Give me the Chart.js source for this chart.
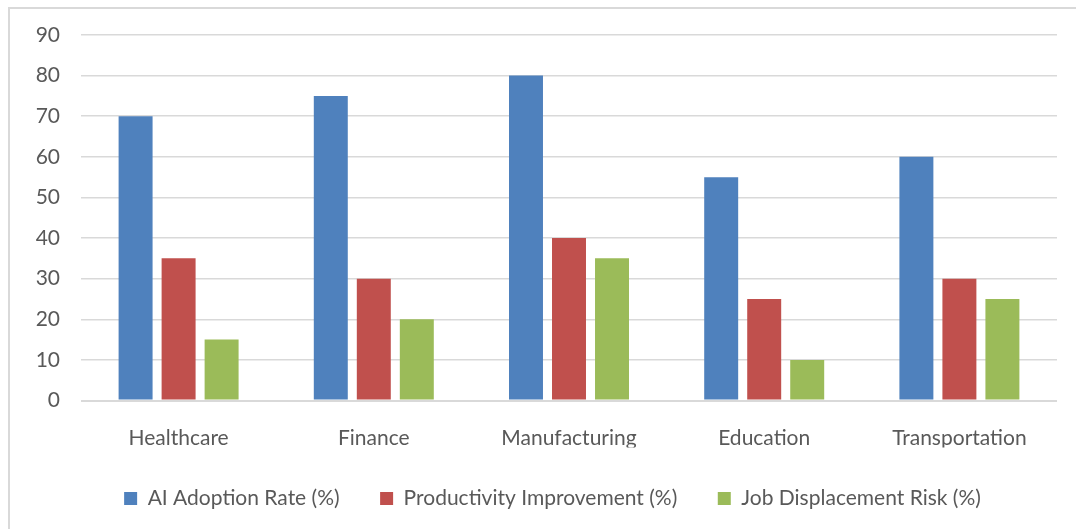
<!DOCTYPE html>
<html>
<head>
<meta charset="utf-8">
<script src="https://cdn.jsdelivr.net/npm/chart.js@4.4.0/dist/chart.umd.min.js"></script>
<style>
  html, body { margin: 0; padding: 0; background: #ffffff; overflow: hidden; }
  #wrap { position: absolute; left: 0; top: 0; width: 1076px; height: 529px; }
</style>
</head>
<body>
<div id="wrap"><canvas id="c" width="1076" height="529"></canvas></div>
<script>
const categories = ["Healthcare", "Finance", "Manufacturing", "Education", "Transportation"];
const aiAdoption = [70, 75, 80, 55, 60];
const productivity = [35, 30, 40, 25, 30];
const jobRisk = [15, 20, 35, 10, 25];
const seriesNames = ["AI Adoption Rate (%)", "Productivity Improvement (%)", "Job Displacement Risk (%)"];
const yTicks = [0, 10, 20, 30, 40, 50, 60, 70, 80, 90];

const FONT = "Lato, 'Open Sans', sans-serif";
const TXT = "#595959";

const borderPlugin = {
  id: 'outerBorder',
  beforeDraw(chart) {
    const ctx = chart.ctx;
    ctx.save();
    ctx.fillStyle = '#ffffff';
    ctx.fillRect(0, 0, chart.width, chart.height);
    ctx.strokeStyle = '#d9d9d9';
    ctx.lineWidth = 2;
    ctx.beginPath();
    ctx.moveTo(9, chart.height + 5);
    ctx.lineTo(9, 8);
    ctx.lineTo(chart.width + 5, 8);
    ctx.stroke();
    ctx.restore();
  },
  afterLayout(chart) {
    if (chart.legend) {
      chart.legend.left += 24;
      chart.legend.right += 24;
    }
  }
};

new Chart(document.getElementById('c'), {
  type: 'bar',
  data: {
    labels: categories,
    datasets: [
      { label: seriesNames[0], data: aiAdoption, backgroundColor: '#4F81BD' },
      { label: seriesNames[1], data: productivity, backgroundColor: '#C0504D' },
      { label: seriesNames[2], data: jobRisk, backgroundColor: '#9BBB59' }
    ]
  },
  options: {
    responsive: false,
    animation: false,
    devicePixelRatio: 1,
    layout: { padding: { left: 0, right: 19, top: 35, bottom: 10 } },
    datasets: { bar: { categoryPercentage: 0.661, barPercentage: 0.79 } },
    scales: {
      x: {
        grid: { display: false, drawTicks: false },
        border: { display: false },
        ticks: { color: TXT, font: { family: FONT, size: 21 }, padding: 25 },
        afterFit(scale) { scale.height = 47; }
      },
      y: {
        min: 0, max: 90,
        afterBuildTicks(scale) { scale.ticks = yTicks.map(v => ({ value: v })); },
        grid: {
          drawTicks: false,
          color: '#d9d9d9',
          lineWidth: ctx => (ctx.tick && ctx.tick.value === 0 ? 2 : 1.5)
        },
        border: { display: false },
        ticks: { color: TXT, font: { family: FONT, size: 21 }, padding: 21 },
        afterFit(scale) { scale.width = 81; }
      }
    },
    plugins: {
      legend: {
        position: 'bottom',
        labels: {
          color: TXT,
          font: { family: FONT, size: 21 },
          boxWidth: 13, boxHeight: 13,
          padding: 40.5
        }
      },
      tooltip: { enabled: false }
    }
  },
  plugins: [borderPlugin]
});
</script>
</body>
</html>
